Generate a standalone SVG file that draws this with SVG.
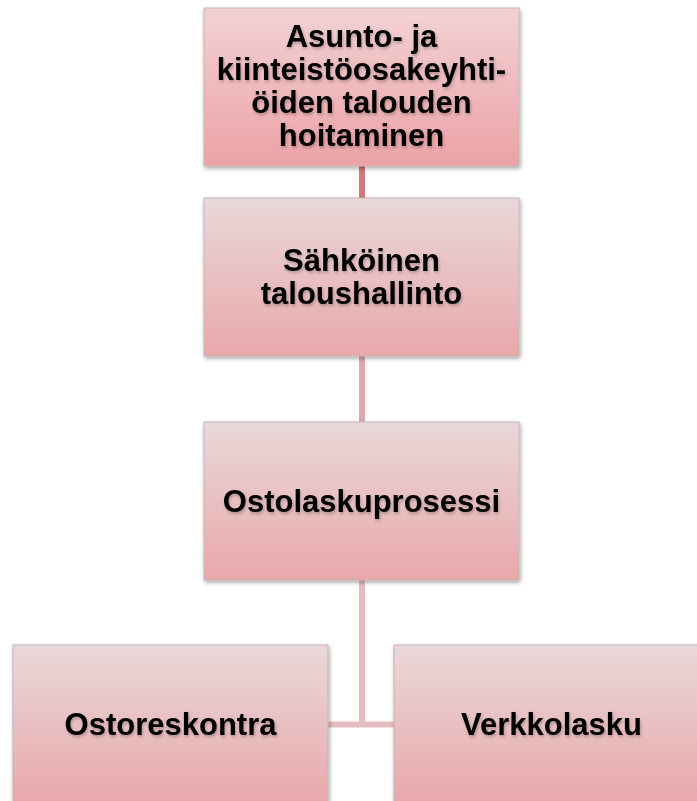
<svg xmlns="http://www.w3.org/2000/svg" width="697" height="801" viewBox="0 0 697 801">
<style>
.box{stroke:#c4b4b5;stroke-width:1;filter:url(#sh)}
.t{font-family:"Liberation Sans",Arial,sans-serif;font-weight:bold;font-size:31px;fill:#000;text-anchor:middle;filter:url(#ts)}
.c{fill:none;stroke-width:6}
</style>
<defs>
<linearGradient id="g1" x1="0" y1="0" x2="0" y2="1">
<stop offset="0" stop-color="#f3d2d4"/><stop offset="1" stop-color="#eba2a5"/>
</linearGradient>
<linearGradient id="g2" x1="0" y1="0" x2="0" y2="1">
<stop offset="0" stop-color="#ead8d9"/><stop offset="1" stop-color="#e8a8aa"/>
</linearGradient>
<filter id="sh" x="-10%" y="-10%" width="120%" height="125%">
<feDropShadow dx="1" dy="2" stdDeviation="2" flood-color="#000" flood-opacity="0.35"/>
</filter>
<filter id="ts" x="-10%" y="-30%" width="120%" height="160%">
<feDropShadow dx="1" dy="2" stdDeviation="1.5" flood-color="#000" flood-opacity="0.25"/>
</filter>
</defs>
<rect width="697" height="801" fill="#fff"/>
<g id="connectors">
<line class="c" x1="362" y1="166" x2="362" y2="198" stroke="#d0787c"/>
<line class="c" x1="362" y1="356" x2="362" y2="422" stroke="#dcaaac"/>
<polyline class="c" points="362,580 362,724.5" stroke="#e3bdbf"/>
<line class="c" x1="328" y1="724.5" x2="394" y2="724.5" stroke="#e3bdbf" stroke-width="5"/>
</g>
<g id="n1">
<rect class="box" x="204" y="8" width="315" height="158" fill="url(#g1)"/>
<text class="t" x="361.5" y="47">Asunto- ja</text>
<text class="t" x="361.5" y="80">kiinteistöosakeyhti-</text>
<text class="t" x="361.5" y="113">öiden talouden</text>
<text class="t" x="361.5" y="146">hoitaminen</text>
</g>
<g id="n2">
<rect class="box" x="204" y="198" width="315" height="158" fill="url(#g2)"/>
<text class="t" x="361.5" y="271">Sähköinen</text>
<text class="t" x="361.5" y="304">taloushallinto</text>
</g>
<g id="n3">
<rect class="box" x="204" y="422" width="315" height="158" fill="url(#g2)"/>
<text class="t" x="361.5" y="512">Ostolaskuprosessi</text>
</g>
<g id="n4">
<rect class="box" x="13" y="645" width="315" height="158" fill="url(#g2)"/>
<text class="t" x="170.5" y="735">Ostoreskontra</text>
</g>
<g id="n5">
<rect class="box" x="394" y="645" width="315" height="158" fill="url(#g2)"/>
<text class="t" x="551.5" y="735">Verkkolasku</text>
</g>
</svg>
